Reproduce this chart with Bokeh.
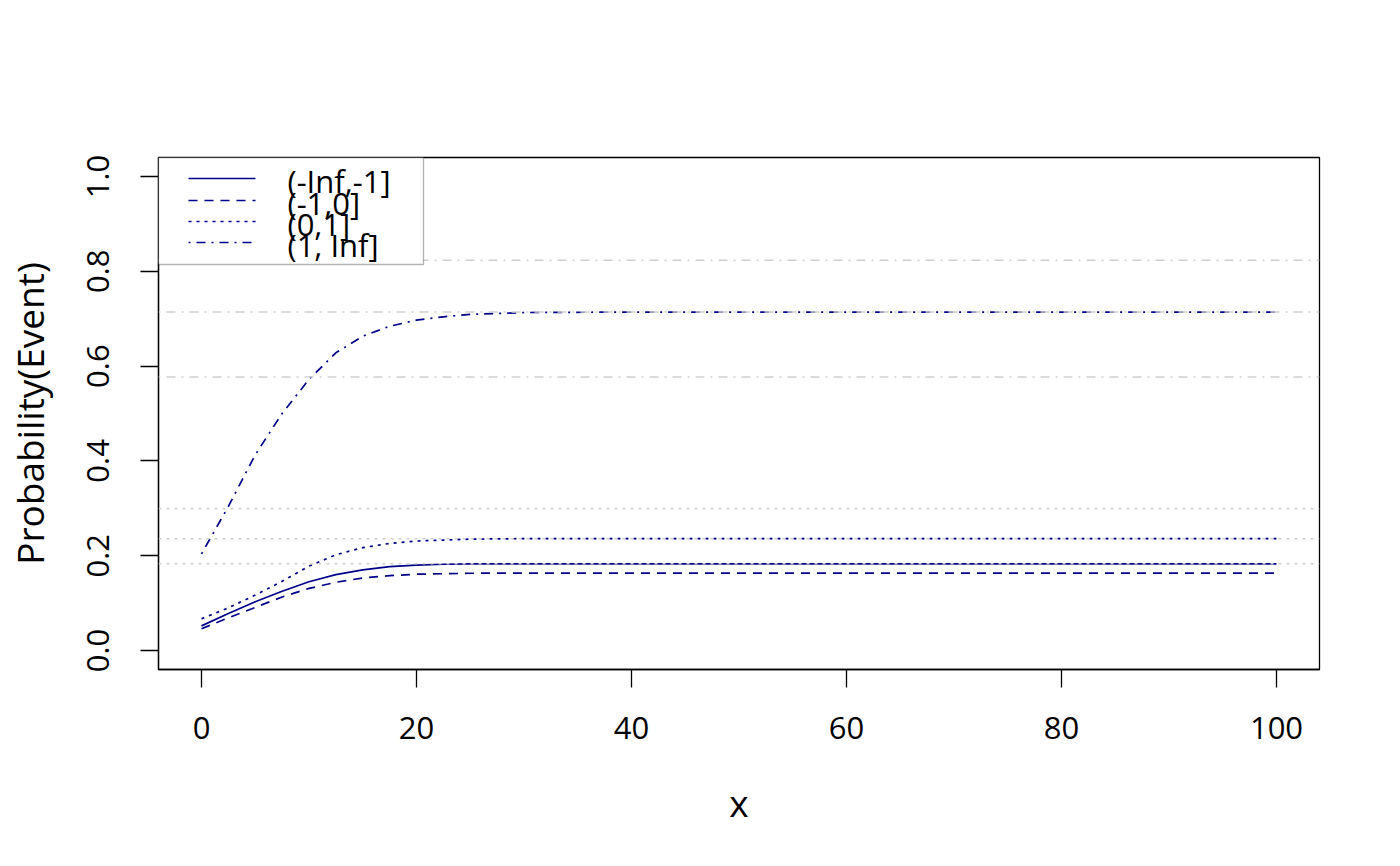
from bokeh.plotting import figure
from bokeh.models import Range1d, FixedTicker, PrintfTickFormatter, Span, BoxAnnotation, Label, ColumnDataSource
from bokeh.embed import file_html
from bokeh.resources import INLINE

# ---- data ----
x_vals = [0, 2.5, 5, 7.5, 10, 12.5, 15, 17.5, 20, 22.5, 25, 30, 40, 60, 80, 100]
p_neg_inf_m1 = [0.052, 0.078, 0.103, 0.125, 0.145, 0.160, 0.170, 0.177, 0.180, 0.182, 0.183, 0.183, 0.183, 0.183, 0.183, 0.183]
p_m1_0 = [0.046, 0.069, 0.091, 0.113, 0.131, 0.144, 0.153, 0.158, 0.161, 0.162, 0.163, 0.1635, 0.1635, 0.1635, 0.1635, 0.1635]
p_0_1 = [0.067, 0.090, 0.117, 0.146, 0.178, 0.202, 0.217, 0.226, 0.231, 0.233, 0.235, 0.236, 0.236, 0.236, 0.236, 0.236]
p_1_inf = [0.204, 0.304, 0.413, 0.500, 0.572, 0.628, 0.663, 0.684, 0.697, 0.704, 0.709, 0.713, 0.714, 0.714, 0.714, 0.714]
series_labels = ["(-Inf,-1]", "(-1,0]", "(0,1]", "(1, Inf]"]
dotted_ref_levels = [0.183, 0.236, 0.299]
dashdot_ref_levels = [0.577, 0.714, 0.823]
x_ticks = [0, 20, 40, 60, 80, 100]
y_ticks = [0.0, 0.2, 0.4, 0.6, 0.8, 1.0]
x_title = "x"
y_title = "Probability(Event)"

# ---- styles ----
NAVY = "#00008B"
GRAY = "#cfcfcf"
FONT = "Open Sans"
FS = "31px"
FS_TITLE = "37px"
DASHES = ["solid", "9 7", "3 5", "2 6 9 6"]

# layout (page pixels)
FL, FT, FW, FH = 158, 157, 1161, 512
XR = (-4, 104)
YR = (-0.04, 1.04)

def px2x(px):
    return XR[0] + (px - FL) / FW * (XR[1] - XR[0])

def py2y(py):
    return YR[1] - (py - FT) / FH * (YR[1] - YR[0])

p = figure(frame_width=FW, frame_height=FH,
           x_range=Range1d(*XR), y_range=Range1d(*YR),
           output_backend="svg", toolbar_location=None,
           min_border_left=FL, min_border_right=65,
           min_border_top=FT, min_border_bottom=181)
p.grid.visible = False
p.outline_line_color = "black"
p.outline_line_width = 1.3
p.background_fill_color = "white"
p.border_fill_color = "white"

# reference lines
for lv in dotted_ref_levels:
    p.add_layout(Span(location=lv, dimension="width", line_color=GRAY, line_width=1.5, line_dash=DASHES[2]))
for lv in dashdot_ref_levels:
    p.add_layout(Span(location=lv, dimension="width", line_color=GRAY, line_width=1.5, line_dash=DASHES[3]))

src = ColumnDataSource(dict(x=x_vals, a=p_neg_inf_m1, b=p_m1_0, c=p_0_1, d=p_1_inf))
for col, dash in zip(["a", "b", "c", "d"], DASHES):
    p.line("x", col, source=src, line_color=NAVY, line_width=1.7, line_dash=dash)

# axes
for ax in (p.xaxis, p.yaxis):
    ax.major_tick_out = 18
    ax.major_tick_in = 0
    ax.minor_tick_line_color = None
    ax.axis_line_color = "black"
    ax.axis_line_width = 1.3
    ax.major_tick_line_width = 1.3
    ax.major_label_text_font = FONT
    ax.major_label_text_font_size = FS
    ax.major_label_text_color = "black"
    ax.axis_label_text_font = FONT
    ax.axis_label_text_font_size = FS_TITLE
    ax.axis_label_text_font_style = "normal"
    ax.axis_label_text_color = "black"

p.xaxis.ticker = FixedTicker(ticks=x_ticks)
p.yaxis.ticker = FixedTicker(ticks=y_ticks)
p.yaxis.formatter = PrintfTickFormatter(format="%.1f")
p.yaxis.major_label_orientation = "vertical"
p.xaxis.axis_label = x_title
p.yaxis.axis_label = y_title
p.xaxis.major_label_standoff = 29
p.xaxis.axis_label_standoff = 35
p.yaxis.major_label_standoff = 31
p.yaxis.axis_label_standoff = 30

# legend (drawn manually, R style)
box = BoxAnnotation(left=px2x(158), right=px2x(423), top=py2y(157), bottom=py2y(264),
                    fill_color="white", fill_alpha=1.0, line_color="black", line_width=1.3,
                    level="annotation")
p.add_layout(box)
row_y = [178, 200, 221, 242]
for lab, dash, ry in zip(series_labels, DASHES, row_y):
    r = p.segment(x0=[px2x(188)], y0=[py2y(ry)], x1=[px2x(255)], y1=[py2y(ry)],
                  line_color=NAVY, line_width=1.7, line_dash=dash)
    r.level = "overlay"
    p.add_layout(Label(x=px2x(287), y=py2y(ry + 2), text=lab, text_font=FONT, text_font_size=FS,
                       text_baseline="middle", text_align="left", text_color="black", level="overlay"))

open("out.html", "w").write(file_html(p, INLINE))
